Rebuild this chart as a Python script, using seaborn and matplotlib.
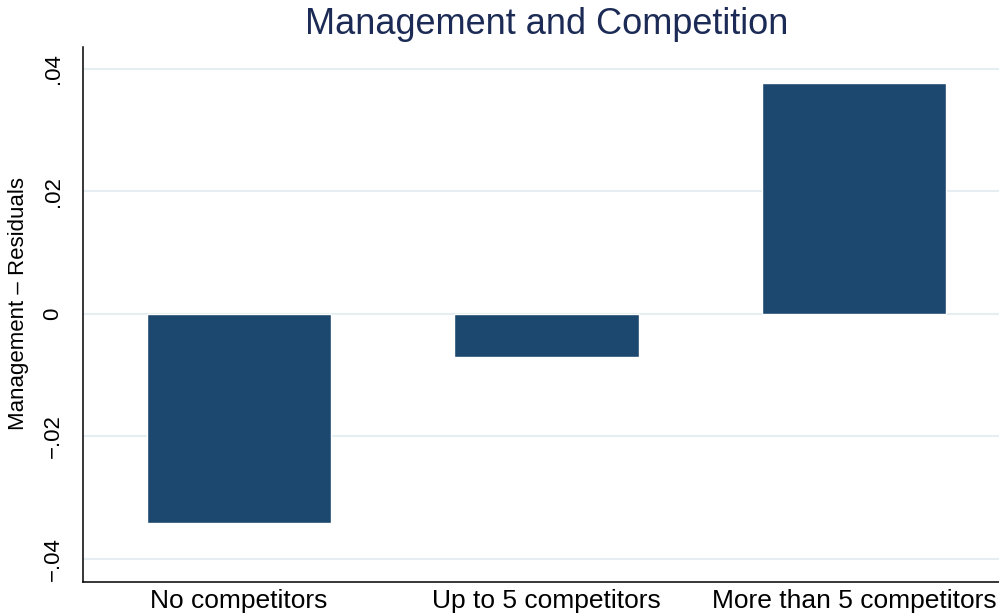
import pandas as pd
import seaborn as sns
import matplotlib.pyplot as plt

# data
categories = ["No competitors", "Up to 5 competitors", "More than 5 competitors"]
residuals = [-0.0341, -0.0070, 0.0377]
ytick_vals = [-0.04, -0.02, 0, 0.02, 0.04]
ytick_labels = ["\u2212.04", "\u2212.02", "0", ".02", ".04"]

df = pd.DataFrame({"group": categories, "resid": residuals})

sns.set_style("white")
plt.rcParams["font.family"] = ["Liberation Sans", "DejaVu Sans"]
plt.rcParams["text.color"] = "black"
plt.rcParams["xtick.color"] = "black"
plt.rcParams["ytick.color"] = "black"
plt.rcParams["axes.labelcolor"] = "black"

bar_color = "#1c476f"
title_color = "#1c2b55"
grid_color = "#e6eef1"

fig = plt.figure(figsize=(9.99, 6.15), dpi=100)
ax = fig.add_axes([83 / 999, 33 / 615, 927 / 999, 535 / 615])

sns.barplot(data=df, x="group", y="resid", color=bar_color, saturation=1,
            width=0.6, ax=ax, zorder=3)

ax.set_xlim(-0.507, 2.507)
ax.set_ylim(-0.0438, 0.0436)
ax.set_yticks(ytick_vals)
ax.set_yticklabels(ytick_labels, rotation=90, va="center", fontsize=16)
ax.tick_params(axis="y", length=7, width=1, pad=7, color="black")
ax.tick_params(axis="x", length=0, pad=5, labelsize=19)
ax.grid(axis="y", color=grid_color, linewidth=1.5, zorder=0)
ax.set_axisbelow(True)

for s in ["top", "right"]:
    ax.spines[s].set_visible(False)
for s in ["left", "bottom"]:
    ax.spines[s].set_color("black")
    ax.spines[s].set_linewidth(1.1)

ax.set_xlabel("")
ax.set_ylabel("Management \u2013 Residuals", fontsize=16)
ax.yaxis.set_label_coords(-0.058, 0.52)
ax.set_title("Management and Competition", fontsize=26, color=title_color, pad=9)

fig.savefig("out.png", dpi=100)
